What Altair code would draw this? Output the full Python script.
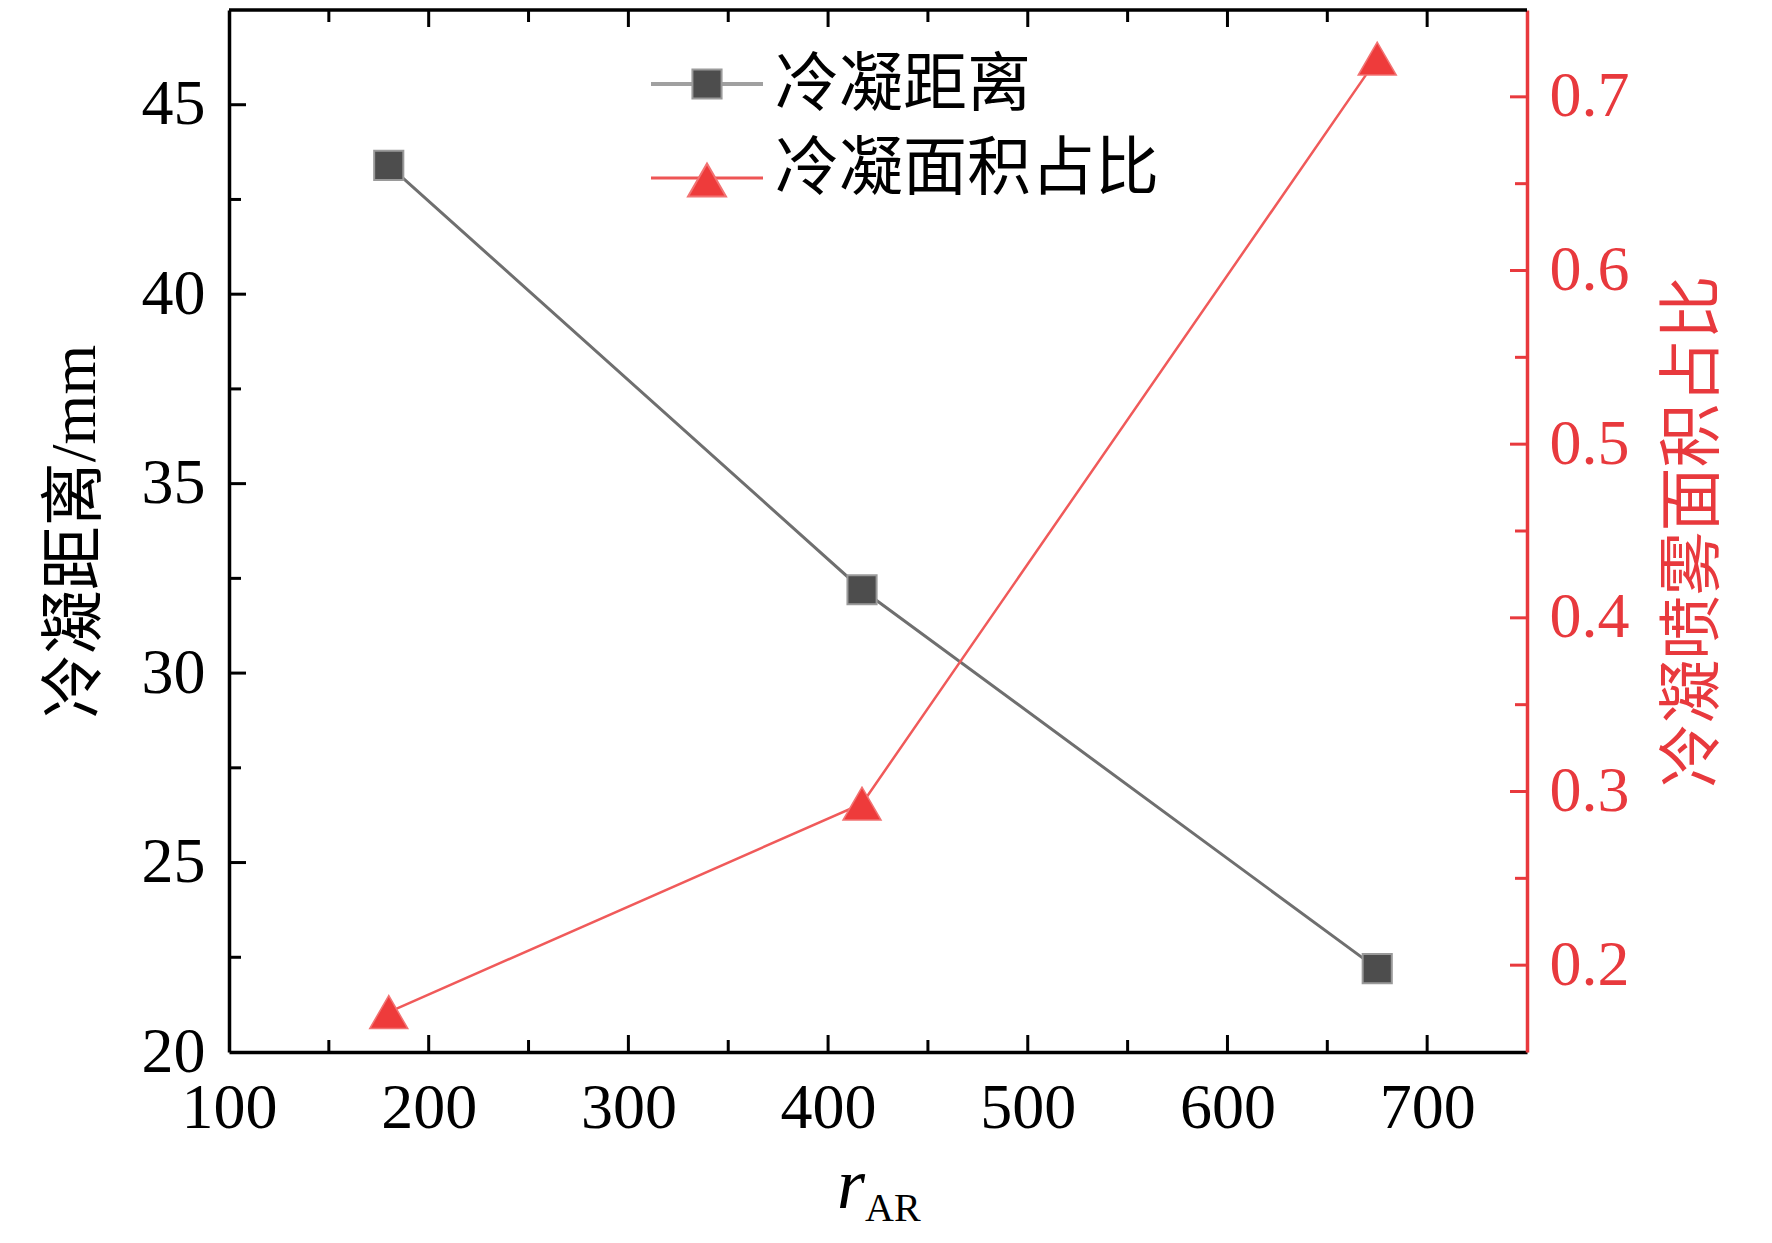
import altair as alt
import pandas as pd

# ---- values ----
r_ar = [180, 417, 675]
cond_distance = [43.4, 32.2, 22.2]          # 冷凝距离 / mm
cond_area_ratio = [0.173, 0.293, 0.722]     # 冷凝面积占比

series_names = ["冷凝距离", "冷凝面积占比"]
left_title = "冷凝距离/mm"
right_title = "冷凝喷雾面积占比"
x_title_main = "r"
x_title_sub = "AR"

x_domain = [100, 750]
x_major = [100, 200, 300, 400, 500, 600, 700]
x_minor = [150, 250, 350, 450, 550, 650]
yl_domain = [20, 47.5]
yl_major = [20, 25, 30, 35, 40, 45]
yl_minor = [22.5, 27.5, 32.5, 37.5, 42.5]
yr_domain = [0.15, 0.75]
yr_major = [0.2, 0.3, 0.4, 0.5, 0.6, 0.7]
yr_minor = [0.25, 0.35, 0.45, 0.55, 0.65]

# ---- styling ----
W, H = 1298, 1042
BLACK = "#000000"
RED = "#E8393D"
FONT = "Liberation Serif"
CJK = "Liberation Serif, Noto Sans CJK SC"
MAJ, MIN = 17, 12

xs = alt.Scale(domain=x_domain, nice=False, zero=False)
yls = alt.Scale(domain=yl_domain, nice=False, zero=False)
yrs = alt.Scale(domain=yr_domain, nice=False, zero=False)

df = pd.DataFrame({"r": r_ar, "dist": cond_distance, "ratio": cond_area_ratio})

x_axis = alt.Axis(values=x_major, orient="bottom", format="d", ticks=False, grid=False,
                  domainColor=BLACK, domainWidth=3.5, labelFont=FONT,
                  labelFontSize=64, labelColor=BLACK, labelPadding=24,
                  labelFlush=False, labelOverlap=False, title="")
yl_axis = alt.Axis(values=yl_major, orient="left", format="d", ticks=False, grid=False,
                   domainColor=BLACK, domainWidth=3.5, labelFont=FONT,
                   labelFontSize=64, labelColor=BLACK, labelPadding=24,
                   labelFlush=False, labelOverlap=False,
                   title=left_title, titleFont=CJK, titleFontSize=64,
                   titleFontWeight="normal", titleColor=BLACK, titlePadding=34)
yr_axis = alt.Axis(values=yr_major, orient="right", format=".1f", ticks=False, grid=False,
                   domainColor=RED, domainWidth=3.5, labelFont=FONT,
                   labelFontSize=64, labelColor=RED, labelPadding=22,
                   labelFlush=False, labelOverlap=False,
                   title=right_title, titleFont=CJK, titleFontSize=64,
                   titleFontWeight="normal", titleColor=RED, titlePadding=32,
                   titleAngle=270, titleBaseline="top")


def X(field):
    return alt.X(field, scale=xs, axis=x_axis)


def x_ticks(vals, length, top):
    d = pd.DataFrame({"v": vals})
    y0 = 0 if top else H
    y1 = length if top else H - length
    return alt.Chart(d).mark_rule(color=BLACK, strokeWidth=3).encode(
        x=X("v:Q"), y=alt.value(y0), y2=alt.value(y1))


def y_ticks(vals, length, scale, axis, right, color):
    d = pd.DataFrame({"v": vals})
    x0 = W if right else 0
    x1 = W - length if right else length
    return alt.Chart(d).mark_rule(color=color, strokeWidth=3).encode(
        y=alt.Y("v:Q", scale=scale, axis=axis), x=alt.value(x0), x2=alt.value(x1))


# left series
left_line = alt.Chart(df).mark_line(color="#6f6f6f", strokeWidth=3).encode(
    x=X("r:Q"), y=alt.Y("dist:Q", scale=yls, axis=yl_axis))
left_pts = alt.Chart(df).mark_point(shape="square", size=850, filled=True, fill="#4d4d4d",
                                    stroke="#9a9a9a", strokeWidth=2, opacity=1).encode(
    x=X("r:Q"), y=alt.Y("dist:Q", scale=yls, axis=yl_axis))

# right series
right_line = alt.Chart(df).mark_line(color="#F05A5A", strokeWidth=2.5).encode(
    x=X("r:Q"), y=alt.Y("ratio:Q", scale=yrs, axis=yr_axis))
right_pts = alt.Chart(df).mark_point(shape="triangle-up", size=1444, filled=True, fill="#EE3B3B",
                                     stroke="#F27373", strokeWidth=1.5, opacity=1).encode(
    x=X("r:Q"), y=alt.Y("ratio:Q", scale=yrs, axis=yr_axis))

# frame top border
top_border = alt.Chart(pd.DataFrame({"v": [0]})).mark_rule(color=BLACK, strokeWidth=3.5).encode(
    x=alt.value(0), x2=alt.value(W), y=alt.value(0))

# legend
legend_layers = []
leg_specs = [
    (series_names[0], "#a0a0a0", 4, "square", 850, "#4d4d4d", "#9a9a9a", 74, 74, 76),
    (series_names[1], "#EE5555", 3, "triangle-up", 1444, "#EE3B3B", "#F27373", 168, 170, 160),
]
for name, lc, lw, shp, sz, fc, sc, ly, my, ty in leg_specs:
    d = pd.DataFrame({"name": [name]})
    legend_layers.append(alt.Chart(d).mark_rule(color=lc, strokeWidth=lw).encode(
        x=alt.value(422), x2=alt.value(534), y=alt.value(ly)))
    legend_layers.append(alt.Chart(d).mark_point(shape=shp, size=sz, filled=True, fill=fc,
                                                 stroke=sc, strokeWidth=2, opacity=1).encode(
        x=alt.value(478), y=alt.value(my)))
    legend_layers.append(alt.Chart(d).mark_text(align="left", baseline="middle",
                                                font="Noto Sans CJK SC", fontSize=64,
                                                color=BLACK).encode(
        x=alt.value(546), y=alt.value(ty), text="name:N"))

# x-axis title r_AR
t1 = alt.Chart(pd.DataFrame({"t": [x_title_main]})).mark_text(
    align="left", baseline="alphabetic", font=FONT, fontSize=72, fontStyle="italic",
    color=BLACK).encode(x=alt.value(608), y=alt.value(1198), text="t:N")
t2 = alt.Chart(pd.DataFrame({"t": [x_title_sub]})).mark_text(
    align="left", baseline="alphabetic", font=FONT, fontSize=40,
    color=BLACK).encode(x=alt.value(636), y=alt.value(1211), text="t:N")

left_layer = alt.layer(
    left_line, left_pts,
    x_ticks([v for v in x_major if v > x_domain[0]], MAJ, False),
    x_ticks(x_minor, MIN, False),
    x_ticks([v for v in x_major if v > x_domain[0]], MAJ, True),
    x_ticks(x_minor, MIN, True),
    y_ticks([v for v in yl_major if v > yl_domain[0]], MAJ, yls, yl_axis, False, BLACK),
    y_ticks(yl_minor, MIN, yls, yl_axis, False, BLACK),
    top_border, t1, t2, *legend_layers,
)
right_layer = alt.layer(
    right_line, right_pts,
    y_ticks(yr_major, MAJ, yrs, yr_axis, True, RED),
    y_ticks(yr_minor, MIN, yrs, yr_axis, True, RED),
)

chart = alt.layer(left_layer, right_layer).resolve_scale(y="independent").properties(
    width=W, height=H,
    autosize=alt.AutoSizeParams(type="none"),
    padding={"left": 221, "top": 2, "right": 225, "bottom": 182},
).configure(font=FONT, background="white").configure_view(stroke=None)

chart.save("out.html", embed_options={"renderer": "svg", "actions": False})
